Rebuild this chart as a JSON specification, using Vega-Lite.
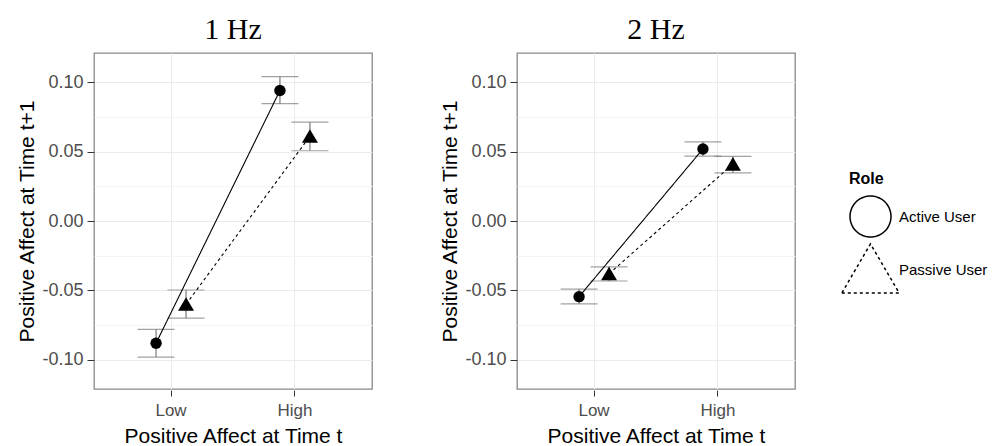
{
  "$schema": "https://vega.github.io/schema/vega-lite/v6.json",
  "padding": {"left": 16, "top": 15, "right": 0, "bottom": 0},
  "background": "white",
  "config": {"font": "Liberation Sans", "view": {"stroke": "#888888", "strokeWidth": 1.3}},
  "data": {"values": [
    {"Frequency": "1 Hz", "Level": "Low", "Role": "Active User", "mean": -0.088, "lo": -0.098, "hi": -0.078},
    {"Frequency": "1 Hz", "Level": "High", "Role": "Active User", "mean": 0.094, "lo": 0.0845, "hi": 0.104},
    {"Frequency": "1 Hz", "Level": "Low", "Role": "Passive User", "mean": -0.060, "lo": -0.070, "hi": -0.0497},
    {"Frequency": "1 Hz", "Level": "High", "Role": "Passive User", "mean": 0.061, "lo": 0.0506, "hi": 0.0712},
    {"Frequency": "2 Hz", "Level": "Low", "Role": "Active User", "mean": -0.0545, "lo": -0.0597, "hi": -0.049},
    {"Frequency": "2 Hz", "Level": "High", "Role": "Active User", "mean": 0.0519, "lo": 0.0467, "hi": 0.057},
    {"Frequency": "2 Hz", "Level": "Low", "Role": "Passive User", "mean": -0.038, "lo": -0.0432, "hi": -0.033},
    {"Frequency": "2 Hz", "Level": "High", "Role": "Passive User", "mean": 0.041, "lo": 0.0347, "hi": 0.0465}
  ]},
  "facet": {"column": {"field": "Frequency", "type": "nominal", "sort": ["1 Hz", "2 Hz"],
    "header": {"title": null, "labelFont": "Liberation Serif", "labelFontSize": 30, "labelColor": "black", "labelPadding": 7}}},
  "spacing": 66,
  "resolve": {"axis": {"y": "independent"}},
  "spec": {
    "width": 278,
    "height": 336,
    "encoding": {
      "x": {"field": "Level", "type": "nominal", "sort": ["Low", "High"],
        "scale": {"type": "band", "domain": ["Low", "High"], "paddingInner": 0.516, "paddingOuter": 0.38},
        "axis": {"title": "Positive Affect at Time t", "labelAngle": 0, "grid": true, "gridColor": "#ebebeb", "bandPosition": 0.5,
          "domain": false, "tickColor": "#333333", "tickSize": 6, "labelPadding": 6, "labelFontSize": 17, "labelColor": "#4d4d4d",
          "titleFontSize": 21, "titleFontWeight": "normal", "titleColor": "black", "titlePadding": 7}},
      "xOffset": {"field": "Role", "type": "nominal", "scale": {"domain": ["Active User", "Passive User"]}}
    },
    "layer": [
      {"mark": {"type": "rule", "color": "#7a7a7a", "strokeWidth": 1.2},
       "encoding": {
         "y": {"field": "lo", "type": "quantitative", "scale": {"domain": [-0.121, 0.121], "nice": false, "zero": false},
           "axis": {"orient": "left", "title": "Positive Affect at Time t+1",
             "values": [-0.1, -0.075, -0.05, -0.025, 0, 0.025, 0.05, 0.075, 0.1],
             "labelExpr": "indexof([-0.075, -0.025, 0.025, 0.075], datum.value) >= 0 ? '' : replace(format(datum.value, '.2f'), '\u2212', '-')",
             "grid": true,
             "gridColor": {"condition": {"test": "indexof([-0.075, -0.025, 0.025, 0.075], datum.value) >= 0", "value": "#f4f4f4"}, "value": "#ebebeb"},
             "tickColor": {"condition": {"test": "indexof([-0.075, -0.025, 0.025, 0.075], datum.value) >= 0", "value": "transparent"}, "value": "#333333"},
             "domain": false, "tickSize": 7, "labelPadding": 4,
             "labelFontSize": 18, "labelColor": "#4d4d4d", "titleFontSize": 21, "titleFontWeight": "normal", "titleColor": "black", "titlePadding": 4}},
         "y2": {"field": "hi"}}},
      {"mark": {"type": "tick", "color": "#7a7a7a", "size": 37, "thickness": 1.2},
       "encoding": {"y": {"field": "lo", "type": "quantitative"}}},
      {"mark": {"type": "tick", "color": "#7a7a7a", "size": 37, "thickness": 1.2},
       "encoding": {"y": {"field": "hi", "type": "quantitative"}}},
      {"mark": {"type": "line", "color": "black", "strokeWidth": 1.1},
       "encoding": {
         "y": {"field": "mean", "type": "quantitative"},
         "strokeDash": {"field": "Role", "type": "nominal", "scale": {"domain": ["Active User", "Passive User"], "range": [[1, 0], [3, 3]]},
           "legend": {"title": "Role", "orient": "none", "legendX": 755, "legendY": 118,
             "titleFontSize": 16, "titleFontWeight": "bold", "titleColor": "black", "titlePadding": 8,
             "labelFontSize": 15, "labelColor": "black", "labelOffset": 7, "rowPadding": 0, "symbolSize": 1681,
             "encode": {
               "symbols": {
                 "shape": {"value": {"expr": "datum.value === 'Active User' ? 'M-0.78,0H0.78M0.27,0A0.27,0.27 0 1,1 -0.27,0A0.27,0.27 0 1,1 0.27,0Z' : 'M-0.78,0H-0.62M-0.48,0H-0.34M0.34,0H0.48M0.62,0H0.78M-0.39,0.3L0.39,0.3L0,-0.33Z'"}},
                 "size": {"value": 1681}, "fill": {"value": "black"}, "stroke": {"value": "black"}, "strokeWidth": {"value": 1.2},
                 "strokeDash": {"value": [1, 0]}, "opacity": {"value": 1}},
               "entries": {"width": {"value": 41}, "height": {"value": 41}, "stroke": {"value": "#cccccc"}, "strokeWidth": {"value": 1}}
             }}}}},
      {"mark": {"type": "point", "filled": true, "color": "black", "opacity": 1, "size": 130},
       "encoding": {
         "y": {"field": "mean", "type": "quantitative"},
         "shape": {"field": "Role", "type": "nominal",
           "scale": {"domain": ["Active User", "Passive User"], "range": ["circle", "M-1.4,1.15L1.4,1.15L0,-1.25Z"]},
           "legend": null}}}
    ]
  }
}
